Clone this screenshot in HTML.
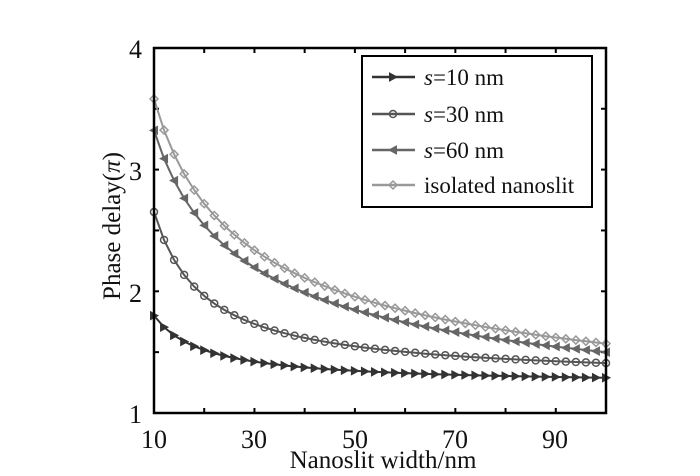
<!DOCTYPE html><html><head><style>body{margin:0;background:#fff}svg{display:block}text{font-family:"Liberation Serif",serif;fill:#111}</style></head><body>
<svg id="s" width="700" height="476" xmlns="http://www.w3.org/2000/svg">
<g font-size="26">
<text x="142" y="58" text-anchor="end">4</text>
<text x="142" y="180" text-anchor="end">3</text>
<text x="142" y="302" text-anchor="end">2</text>
<text x="142" y="423" text-anchor="end">1</text>
<text x="154" y="448" text-anchor="middle">10</text>
<text x="254" y="448" text-anchor="middle">30</text>
<text x="355" y="448" text-anchor="middle">50</text>
<text x="455" y="448" text-anchor="middle">70</text>
<text x="555" y="448" text-anchor="middle">90</text>
</g>
<g font-size="25">
<text x="383" y="468" text-anchor="middle">Nanoslit width/nm</text>
<text transform="translate(120,226) rotate(-90)" text-anchor="middle">Phase delay(<tspan font-style="italic">π</tspan>)</text>
</g>
<g id="plot"></g>
<rect x="154" y="48" width="452" height="365" fill="none" stroke="#000" stroke-width="2.5"/>
<rect x="362" y="56" width="230" height="151" fill="#fff" stroke="#000" stroke-width="2"/>
<g id="leg"></g>
<g font-size="23">
<text x="424" y="85"><tspan font-style="italic">s</tspan>=10 nm</text>
<text x="424" y="122"><tspan font-style="italic">s</tspan>=30 nm</text>
<text x="424" y="158"><tspan font-style="italic">s</tspan>=60 nm</text>
<text x="424" y="193">isolated nanoslit</text>
</g>
</svg>
<script>
const X=w=>154+(w-10)*452/90, Y=v=>413-(v-1)*121.7;
const P=document.getElementById('plot'),L=document.getElementById('leg');
let h='';
for(let w=20;w<100;w+=10){const x=X(w);h+=`<line x1="${x}" y1="413" x2="${x}" y2="408" stroke="#000" stroke-width="2"/><line x1="${x}" y1="48" x2="${x}" y2="53" stroke="#000" stroke-width="2"/>`;}
for(let v=1.5;v<4;v+=0.5){const y=Y(v);h+=`<line x1="154" y1="${y}" x2="159" y2="${y}" stroke="#000" stroke-width="2"/><line x1="606" y1="${y}" x2="601" y2="${y}" stroke="#000" stroke-width="2"/>`;}
function mk(t,x,y,c){
 if(t==0)return `<polygon points="${x-3.5},${y-4} ${x+4},${y} ${x-3.5},${y+4}" fill="${c}" stroke="${c}"/>`;
 if(t==1)return `<circle cx="${x}" cy="${y}" r="3.5" fill="none" stroke="${c}" stroke-width="1.5"/>`;
 if(t==2)return `<polygon points="${x+3.5},${y-4} ${x-4},${y} ${x+3.5},${y+4}" fill="${c}" stroke="${c}"/>`;
 return `<polygon points="${x},${y-4} ${x+4},${y} ${x},${y+4} ${x-4},${y}" fill="none" stroke="${c}" stroke-width="1.5"/>`;
}
const S=[
 {f:w=>1.233+5.67/w,c:'#333',t:0},
 {f:w=>1.272+13.8/w,c:'#555',t:1},
 {f:w=>0.657+8.43/Math.sqrt(w),c:'#666',t:2},
 {f:w=>0.64+9.3/Math.sqrt(w),c:'#999',t:3}];
S.slice().reverse().forEach(s=>{
 let pts=[],m='';
 for(let w=10;w<=100.01;w+=2){const x=X(w),y=Y(s.f(w));pts.push(x.toFixed(1)+','+y.toFixed(1));m+=mk(s.t,x,y,s.c);}
 h+=`<polyline points="${pts.join(' ')}" fill="none" stroke="${s.c}" stroke-width="2"/>`+m;
});
P.innerHTML=h;
let l='';const ys=[77,114,150,185];
S.forEach((s,i)=>{l+=`<line x1="372" y1="${ys[i]}" x2="415" y2="${ys[i]}" stroke="${s.c}" stroke-width="2.5"/>`+mk(s.t,393,ys[i],s.c);});
L.innerHTML=l;
</script>
</body></html>
